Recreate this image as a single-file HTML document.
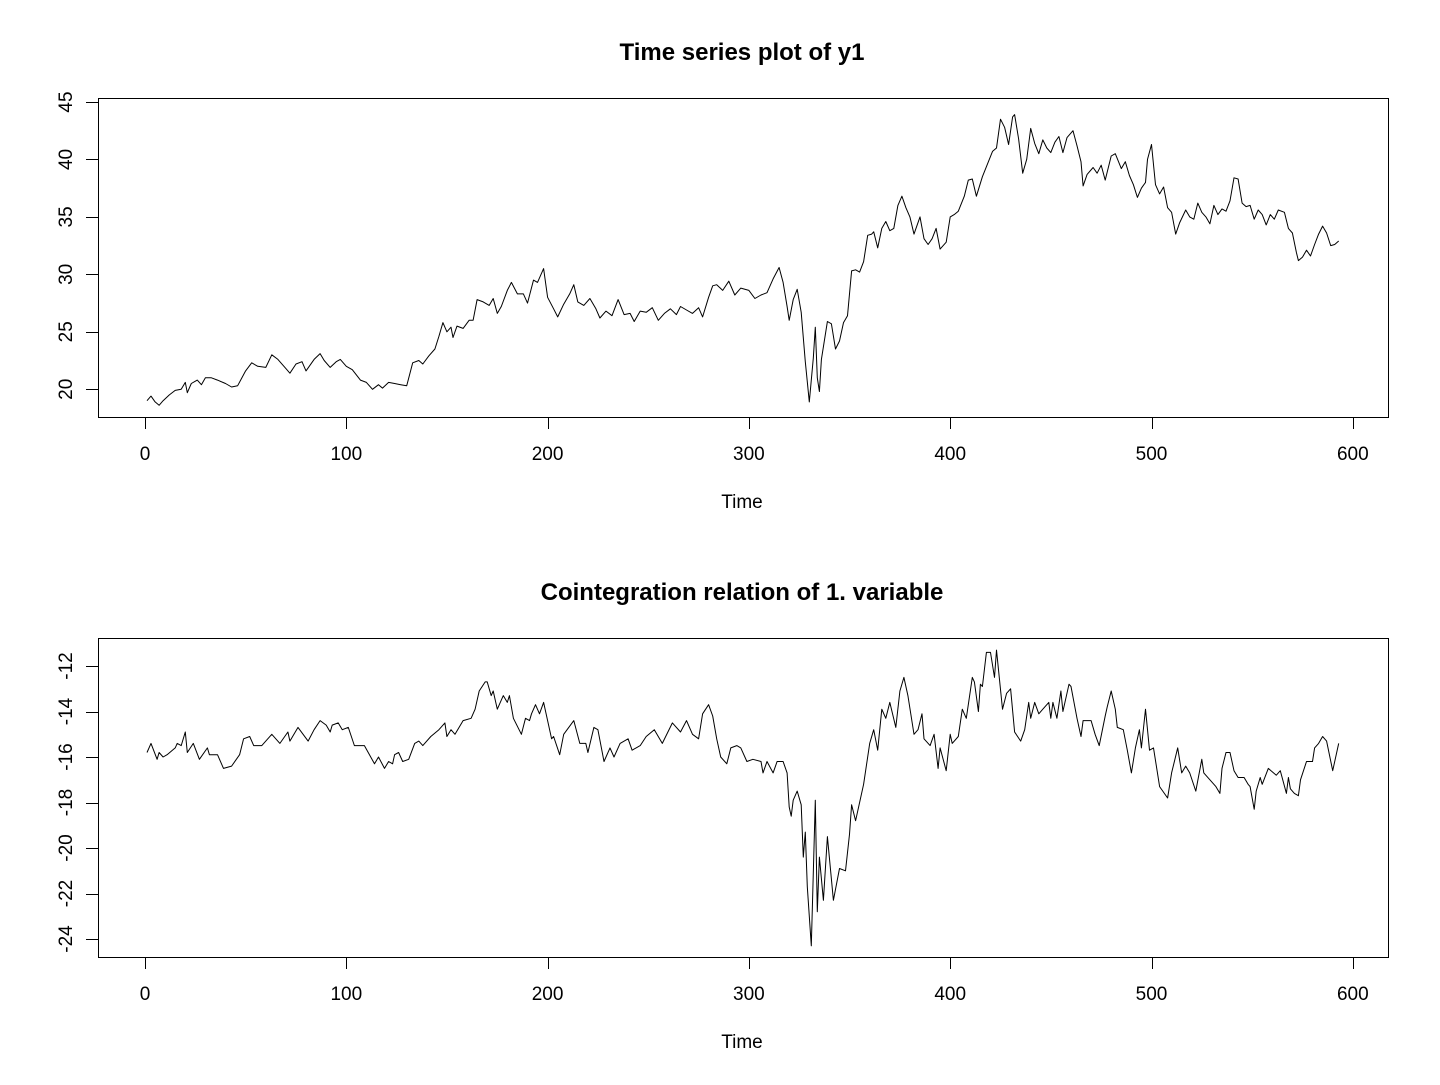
<!DOCTYPE html>
<html><head><meta charset="utf-8"><style>
html,body{margin:0;padding:0;background:#fff;}
svg text{font-family:"Liberation Sans",Arial,sans-serif;fill:#000;}
</style></head><body>
<svg id="chart" width="1440" height="1080" xmlns="http://www.w3.org/2000/svg"></svg>
<script>
const xTicks=[0,100,200,300,400,500,600];
const topYTicks=[20,25,30,35,40,45];
const botYTicks=[-24,-22,-20,-18,-16,-14,-12];
const time1=[1,3,5,7,9,12,15,18,20,21,23,26,28,30,33,36,40,43,46,50,53,56,60,63,66,70,72,75,78,80,84,87,89,92,95,97,100,103,107,110,113,116,118,121,124,127,130,133,136,138,141,144,146,148,150,152,153,155,158,161,163,165,168,171,173,175,177,180,182,185,188,190,193,195,198,200,203,205,208,211,213,215,218,221,224,226,229,232,235,238,241,243,246,249,252,255,258,261,264,266,269,272,275,277,280,282,284,287,290,293,296,300,303,306,309,312,315,317,319,320,322,324,326,328,330,332,333,334,335,336,339,341,343,345,347,349,351,353,355,357,359,361,362,364,366,368,370,372,374,376,378,380,382,385,387,389,391,393,395,398,400,402,404,407,409,411,413,416,419,421,423,425,427,429,431,432,434,436,438,440,442,444,446,448,450,452,454,456,458,461,463,465,466,468,471,473,475,477,480,482,485,487,489,491,493,495,497,498,500,502,504,506,508,510,512,514,517,519,521,523,525,527,529,531,533,535,537,539,541,543,545,547,549,551,553,555,557,559,561,563,566,568,570,572,573,575,577,579,581,583,585,587,589,591,593];
const y1=[19.0,19.4,18.9,18.6,19.0,19.5,19.9,20.0,20.6,19.7,20.5,20.8,20.4,21.0,21.0,20.8,20.5,20.2,20.3,21.6,22.3,22.0,21.9,23.0,22.6,21.8,21.4,22.2,22.4,21.6,22.6,23.1,22.5,21.9,22.4,22.6,22.0,21.7,20.8,20.6,20.0,20.4,20.1,20.6,20.5,20.4,20.3,22.3,22.5,22.2,22.9,23.5,24.6,25.8,25.0,25.4,24.5,25.5,25.3,26.0,26.0,27.8,27.6,27.3,27.9,26.6,27.2,28.6,29.3,28.3,28.3,27.5,29.5,29.3,30.5,28.0,27.0,26.3,27.4,28.3,29.1,27.6,27.3,27.9,27.0,26.2,26.8,26.4,27.8,26.5,26.6,25.9,26.8,26.7,27.1,26.0,26.6,27.0,26.5,27.2,26.9,26.6,27.1,26.3,28.0,29.0,29.1,28.6,29.4,28.2,28.8,28.6,27.9,28.2,28.4,29.6,30.6,29.3,27.2,26.0,27.8,28.7,26.7,22.4,18.9,22.7,25.4,21.0,19.8,22.6,25.9,25.7,23.5,24.2,25.8,26.4,30.3,30.4,30.2,31.1,33.4,33.5,33.7,32.3,34.0,34.6,33.8,34.0,36.0,36.8,35.8,35.0,33.5,35.0,33.1,32.6,33.1,34.0,32.2,32.8,35.0,35.2,35.5,36.8,38.2,38.3,36.8,38.5,39.8,40.7,41.0,43.5,42.8,41.3,43.7,43.9,41.8,38.8,40.0,42.7,41.4,40.5,41.7,41.0,40.6,41.5,42.0,40.6,41.9,42.5,41.2,39.8,37.7,38.7,39.3,38.8,39.5,38.2,40.3,40.5,39.2,39.8,38.6,37.8,36.7,37.5,38.0,40.0,41.3,37.8,37.0,37.6,35.8,35.4,33.5,34.5,35.6,35.0,34.8,36.2,35.4,35.0,34.4,36.0,35.2,35.7,35.5,36.4,38.4,38.3,36.2,35.9,36.0,34.8,35.6,35.2,34.3,35.2,34.8,35.6,35.4,34.0,33.6,31.9,31.2,31.5,32.1,31.6,32.6,33.5,34.2,33.6,32.5,32.6,32.9];
const time2=[1,3,6,7,9,11,15,16,18,20,21,24,27,31,32,36,39,43,47,49,52,54,58,63,67,71,72,76,81,84,87,90,92,93,96,98,101,104,109,114,116,119,121,123,124,126,128,131,134,136,138,142,146,149,150,152,154,158,162,164,166,169,170,172,173,175,178,180,181,183,187,189,191,192,194,196,198,202,203,206,208,213,216,219,220,223,225,228,231,233,236,240,242,246,249,253,257,262,266,269,272,275,277,280,282,284,286,289,291,294,296,299,302,306,307,309,312,314,317,319,320,321,322,324,326,327,328,329,331,333,334,335,337,339,342,345,348,350,351,353,355,357,360,362,364,366,368,370,373,375,377,379,382,384,386,387,390,392,394,395,398,400,401,404,406,408,411,412,414,415,416,418,420,422,423,426,428,430,432,435,437,439,440,442,444,446,449,450,451,453,455,456,459,460,463,465,466,470,472,474,477,478,480,482,483,486,488,490,492,494,495,497,499,501,504,508,510,513,515,517,519,522,525,526,529,532,534,535,537,539,541,543,546,548,549,551,552,554,555,558,562,564,567,568,569,571,573,574,577,580,581,583,585,587,590,593];
const y2=[-15.8,-15.4,-16.1,-15.8,-16.0,-15.9,-15.6,-15.4,-15.5,-14.9,-15.8,-15.4,-16.1,-15.6,-15.9,-15.9,-16.5,-16.4,-15.9,-15.2,-15.1,-15.5,-15.5,-15.0,-15.4,-14.9,-15.3,-14.7,-15.3,-14.8,-14.4,-14.6,-14.9,-14.6,-14.5,-14.8,-14.7,-15.5,-15.5,-16.3,-16.0,-16.5,-16.2,-16.3,-15.9,-15.8,-16.2,-16.1,-15.4,-15.3,-15.5,-15.1,-14.8,-14.5,-15.1,-14.8,-15.0,-14.4,-14.3,-13.9,-13.1,-12.7,-12.7,-13.3,-13.1,-13.9,-13.3,-13.6,-13.3,-14.3,-15.0,-14.3,-14.4,-14.1,-13.7,-14.1,-13.6,-15.2,-15.1,-15.9,-15.0,-14.4,-15.4,-15.4,-15.8,-14.7,-14.8,-16.2,-15.6,-16.0,-15.4,-15.2,-15.7,-15.5,-15.1,-14.8,-15.4,-14.5,-14.9,-14.4,-15.0,-15.2,-14.1,-13.7,-14.2,-15.2,-16.0,-16.3,-15.6,-15.5,-15.6,-16.2,-16.1,-16.2,-16.7,-16.2,-16.7,-16.2,-16.2,-16.7,-18.2,-18.6,-17.9,-17.5,-18.1,-20.4,-19.3,-21.7,-24.3,-17.9,-22.8,-20.4,-22.3,-19.5,-22.3,-20.9,-21.0,-19.4,-18.1,-18.8,-18.0,-17.2,-15.4,-14.8,-15.7,-13.9,-14.3,-13.6,-14.7,-13.1,-12.5,-13.3,-15.0,-14.8,-14.1,-15.2,-15.5,-15.0,-16.5,-15.6,-16.6,-15.0,-15.4,-15.1,-13.9,-14.3,-12.5,-12.7,-14.0,-12.8,-12.9,-11.4,-11.4,-12.5,-11.3,-13.9,-13.2,-13.0,-14.9,-15.3,-14.8,-13.6,-14.3,-13.6,-14.1,-13.9,-13.6,-14.3,-13.6,-14.3,-13.1,-14.0,-12.8,-12.9,-14.3,-15.1,-14.4,-14.4,-15.0,-15.5,-14.2,-13.8,-13.1,-13.9,-14.7,-14.8,-15.7,-16.7,-15.6,-14.8,-15.6,-13.9,-15.7,-15.6,-17.3,-17.8,-16.7,-15.6,-16.7,-16.4,-16.7,-17.5,-16.1,-16.7,-17.0,-17.3,-17.6,-16.5,-15.8,-15.8,-16.6,-16.9,-16.9,-17.2,-17.3,-18.3,-17.5,-16.9,-17.2,-16.5,-16.8,-16.6,-17.6,-16.9,-17.4,-17.6,-17.7,-17.0,-16.2,-16.2,-15.6,-15.4,-15.1,-15.3,-16.6,-15.4];

const NS='http://www.w3.org/2000/svg';
const svg=document.getElementById('chart');
function mk(tag,attrs,parent,text){const e=document.createElementNS(NS,tag);for(const k in attrs)e.setAttribute(k,attrs[k]);if(text!==undefined)e.textContent=text;(parent||svg).appendChild(e);return e;}
const xScale=t=>145+t*2.013;

function panel(cfg){
  const g=mk('g',{});
  
  
  const yS=v=>cfg.y0px+(cfg.v0-v)*cfg.ppu;
  const t=mk('text',{x:742,y:cfg.titleY,'text-anchor':'middle','font-size':'24','font-weight':'bold'},g,cfg.title);
  
  
  const box=mk('rect',{x:98.5,y:cfg.top+0.5,width:1290,height:cfg.bottom-cfg.top,fill:'none',stroke:'#000','stroke-width':1},g);
  
  
  const xa=mk('g',{},g);
  
  
  xTicks.forEach(v=>{const x=Math.round(xScale(v))+0.5;
    const tk=mk('line',{x1:x,x2:x,y1:cfg.bottom,y2:cfg.bottom+12,stroke:'#000'},xa);
    
    
    const lb=mk('text',{x:xScale(v),y:cfg.bottom+43,'text-anchor':'middle','font-size':'19'},xa,String(v));
    
    
  });
  const xt=mk('text',{x:742,y:cfg.bottom+91,'text-anchor':'middle','font-size':'19'},g,'Time');
  
  
  const ya=mk('g',{},g);
  
  
  cfg.yTicks.forEach(v=>{const y=Math.round(yS(v))+0.5;
    const tk=mk('line',{x1:86,x2:98,y1:y,y2:y,stroke:'#000'},ya);
    
    
    const lb=mk('text',{x:0,y:0,'text-anchor':'middle','font-size':'19',transform:'translate(72,'+yS(v)+') rotate(-90)'},ya,String(v));
    
    
  });
  const d=cfg.t.map((tt,i)=>(i?'L':'M')+xScale(tt).toFixed(1)+','+yS(cfg.v[i]).toFixed(1)).join('');
  const p=mk('path',{d:d,fill:'none',stroke:'#000','stroke-width':1,'stroke-linejoin':'round'},g);
  
  
}
panel({name:'top-panel',title:'Time series plot of y1',titleY:60,top:98,bottom:417,v0:45,y0px:102,ppu:11.49,yTicks:topYTicks,t:time1,v:y1,lineName:'y1-series-line'});
panel({name:'bottom-panel',title:'Cointegration relation of 1. variable',titleY:600,top:638,bottom:957,v0:-12,y0px:666,ppu:22.75,yTicks:botYTicks,t:time2,v:y2,lineName:'cointegration-series-line'});
</script>
</body></html>
